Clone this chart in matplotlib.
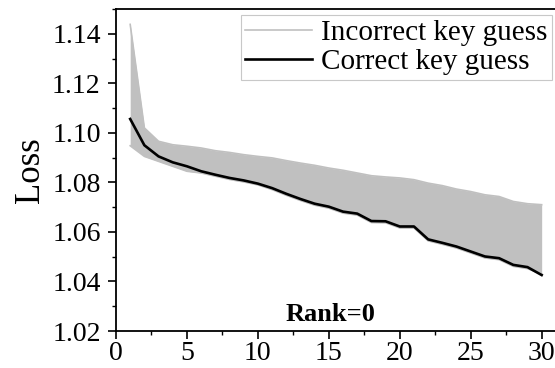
import numpy as np
import matplotlib
matplotlib.use("Agg")
import matplotlib.pyplot as plt
from matplotlib.ticker import MultipleLocator

plt.rcParams['font.family'] = ['Liberation Serif', 'DejaVu Serif']

# training epochs
epochs = list(range(1, 31))

# loss of the correct key guess
correct_loss = [1.1056, 1.0950, 1.0905, 1.0881, 1.0865, 1.0845, 1.0831, 1.0818,
                1.0808, 1.0795, 1.0777, 1.0754, 1.0733, 1.0714, 1.0702, 1.0682,
                1.0674, 1.0644, 1.0643, 1.0622, 1.0622, 1.0570, 1.0556, 1.0541,
                1.0521, 1.0501, 1.0494, 1.0467, 1.0458, 1.0426]

# upper / lower edge of the bundle of incorrect key guesses
incorrect_upper = [1.1438, 1.1020, 1.0966, 1.0952, 1.0946, 1.0939, 1.0928, 1.0921,
                   1.0912, 1.0905, 1.0899, 1.0888, 1.0878, 1.0869, 1.0858, 1.0849,
                   1.0838, 1.0827, 1.0822, 1.0818, 1.0811, 1.0797, 1.0787, 1.0773,
                   1.0763, 1.0750, 1.0743, 1.0723, 1.0714, 1.0710]
incorrect_lower = [1.0948, 1.0905, 1.0885, 1.0865, 1.0845, 1.0838, 1.0825, 1.0812,
                   1.0802, 1.0790, 1.0771, 1.0748, 1.0727, 1.0708, 1.0696, 1.0676,
                   1.0668, 1.0638, 1.0637, 1.0616, 1.0616, 1.0564, 1.0550, 1.0535,
                   1.0515, 1.0495, 1.0488, 1.0461, 1.0452, 1.0430]

gray = '#c0c0c0'

fig = plt.figure(figsize=(5.55, 3.68), dpi=100)
ax = fig.add_axes([0.209, 0.1005, 0.791, 0.875])

ax.fill_between(epochs, incorrect_lower, incorrect_upper, color=gray, lw=0)
ax.plot(epochs, incorrect_upper, color=gray, lw=1.2)
ax.plot(epochs, incorrect_lower, color=gray, lw=1.2, label='Incorrect key guess')
ax.plot(epochs, correct_loss, color='black', lw=1.9, label='Correct key guess')

ax.set_xlim(0, 30.94)
ax.set_ylim(1.02, 1.15)
ax.xaxis.set_major_locator(MultipleLocator(5))
ax.xaxis.set_minor_locator(MultipleLocator(2.5))
ax.yaxis.set_minor_locator(MultipleLocator(0.01))
ax.set_yticks([1.02, 1.04, 1.06, 1.08, 1.10, 1.12, 1.14])
ax.set_yticklabels(['1.02', '1.04', '1.06', '1.08', '1.10', '1.12', '1.14'])

ax.tick_params(which='major', direction='out', length=6, width=1.2, labelsize=20)
ax.tick_params(axis='y', which='major', pad=5)
ax.tick_params(axis='x', which='major', pad=1.5)
ax.tick_params(which='minor', direction='out', length=3, width=1.0)
ax.tick_params(top=False, right=False)
ax.spines['right'].set_visible(False)
for s in ['left', 'bottom', 'top']:
    ax.spines[s].set_linewidth(1.3)

ax.set_ylabel('Loss', fontsize=25, labelpad=4)

ax.text(15.15, 1.0265, 'Rank=0', fontsize=19, fontweight='bold', ha='center', va='center')

leg = ax.legend(loc='upper right', bbox_to_anchor=(0.993, 0.981), fontsize=21,
                frameon=True, fancybox=False, edgecolor='#c8c8c8', framealpha=1,
                handlelength=2.3, handletextpad=0.3, labelspacing=0.1,
                borderpad=0.15, borderaxespad=0)
leg.get_frame().set_linewidth(0.8)

fig.savefig('out.png', dpi=100)
